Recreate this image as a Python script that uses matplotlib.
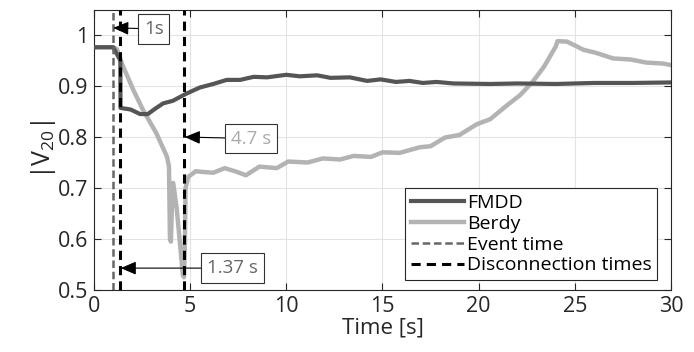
import numpy as np
import matplotlib
matplotlib.use("Agg")
import matplotlib.pyplot as plt

plt.rcParams['font.family'] = ['Open Sans', 'DejaVu Sans']
plt.rcParams['mathtext.fontset'] = 'custom'
plt.rcParams['mathtext.rm'] = 'Open Sans'
plt.rcParams['mathtext.it'] = 'Open Sans'

# FMDD estimate
fmdd_t = [0, 1.0, 1.2, 1.37, 1.38, 1.9, 2.4, 2.8, 3.2, 3.6, 4.1, 4.8, 5.5, 6.2,
          6.9, 7.6, 8.3, 9.0, 10.0, 10.7, 11.6, 12.3, 13.3, 14.2, 14.9, 15.7,
          16.4, 17.1, 17.8, 18.7, 20.6, 22, 24, 26, 28, 30]
fmdd_v = [0.976, 0.976, 0.962, 0.950, 0.857, 0.854, 0.845, 0.845, 0.856, 0.866,
          0.871, 0.885, 0.897, 0.904, 0.912, 0.912, 0.918, 0.917, 0.922, 0.919,
          0.921, 0.916, 0.917, 0.910, 0.913, 0.908, 0.910, 0.906, 0.908, 0.905,
          0.904, 0.905, 0.904, 0.906, 0.906, 0.907]

# Berdy estimate
berdy_t = [0, 1.0, 1.2, 1.45, 2.05, 2.55, 3.25, 3.8, 3.9, 3.95, 4.0, 4.05, 4.12,
           4.3, 4.5, 4.62, 4.68, 4.73, 4.76, 4.9, 5.3, 5.5, 6.2, 6.8, 7.4, 7.9,
           8.6, 9.5, 10.1, 11.1, 11.9, 12.8, 13.5, 14.4, 15.0, 15.9, 16.95, 17.5,
           18.25, 19.0, 19.9, 20.6, 21.5, 22.15, 22.8, 23.4, 24.0, 24.1, 24.6,
           25.45, 26.1, 27.0, 27.9, 28.7, 29.6, 30]
berdy_v = [0.976, 0.976, 0.972, 0.944, 0.892, 0.853, 0.807, 0.761, 0.742, 0.60,
           0.595, 0.66, 0.71, 0.66, 0.58, 0.53, 0.525, 0.60, 0.70, 0.722, 0.733,
           0.732, 0.73, 0.739, 0.732, 0.725, 0.742, 0.739, 0.752, 0.75, 0.758,
           0.756, 0.763, 0.761, 0.77, 0.769, 0.78, 0.782, 0.799, 0.804, 0.825,
           0.835, 0.863, 0.882, 0.908, 0.938, 0.977, 0.988, 0.987, 0.971, 0.965,
           0.954, 0.952, 0.946, 0.944, 0.941]

event_time = 1.0
disconnection_times = [1.37, 4.7]

fig = plt.figure(figsize=(6.94, 3.52), dpi=100)
ax = fig.add_axes([0.1354, 0.176, 0.8315, 0.797])

ax.plot(fmdd_t, fmdd_v, color='#555555', lw=3.0, label='FMDD', zorder=3)
ax.plot(berdy_t, berdy_v, color='#b3b3b3', lw=3.2, label='Berdy', zorder=2)
ax.axvline(event_time, color='#666666', lw=1.8, ls=(0, (3, 1.5)), label='Event time', zorder=4)
for i, t in enumerate(disconnection_times):
    ax.axvline(t, color='black', lw=2.2, ls=(0, (3, 2)),
               label='Disconnection times' if i == 0 else None, zorder=4)

arrow = dict(arrowstyle='-|>,head_width=0.3,head_length=0.7', color='black', lw=0.8,
             shrinkA=0, shrinkB=0)
box = dict(boxstyle='square,pad=0.3', fc='white', ec='#333333', lw=0.8)
ax.annotate('1s', xy=(event_time, 1.014), xytext=(3.12, 1.012), color='#666666',
            fontsize=13.5, ha='center', va='center', bbox=box, arrowprops=arrow, zorder=6)
ax.annotate('4.7 s', xy=(4.72, 0.80), xytext=(8.16, 0.797), color='#aaaaaa',
            fontsize=13.5, ha='center', va='center', bbox=box, arrowprops=arrow, zorder=6)
ax.annotate('1.37 s', xy=(1.39, 0.543), xytext=(7.2, 0.543), color='#666666',
            fontsize=13.5, ha='center', va='center', bbox=box, arrowprops=arrow, zorder=6)

ax.set_xlim(0, 30)
ax.set_ylim(0.5, 1.05)
ax.set_xticks([0, 5, 10, 15, 20, 25, 30])
ax.set_yticks([0.5, 0.6, 0.7, 0.8, 0.9, 1.0])
ax.set_yticklabels(['0.5', '0.6', '0.7', '0.8', '0.9', '1'])
ax.grid(True, color='#e3e3e3', lw=0.8)
ax.set_axisbelow(True)
ax.tick_params(direction='in', top=True, right=True, length=5, width=0.8,
               labelsize=15.5, colors='#262626', pad=4)
for s in ax.spines.values():
    s.set_color('#262626')
    s.set_linewidth(0.8)

ax.set_xlabel('Time [s]', fontsize=16, color='#262626', labelpad=1)
ax.set_ylabel(r'$|\mathrm{V}_{20}|$', fontsize=18, color='#262626', labelpad=0)

leg = ax.legend(loc='lower right', fontsize=14, frameon=True, fancybox=False,
                handlelength=2.7, handletextpad=0.15, borderpad=0.3, labelspacing=0.15,
                borderaxespad=0.5, bbox_to_anchor=(0.993, 0.0))
leg.get_frame().set_edgecolor('#262626')
leg.get_frame().set_linewidth(0.8)
leg.get_frame().set_alpha(1)

fig.savefig('out.png', dpi=100)
